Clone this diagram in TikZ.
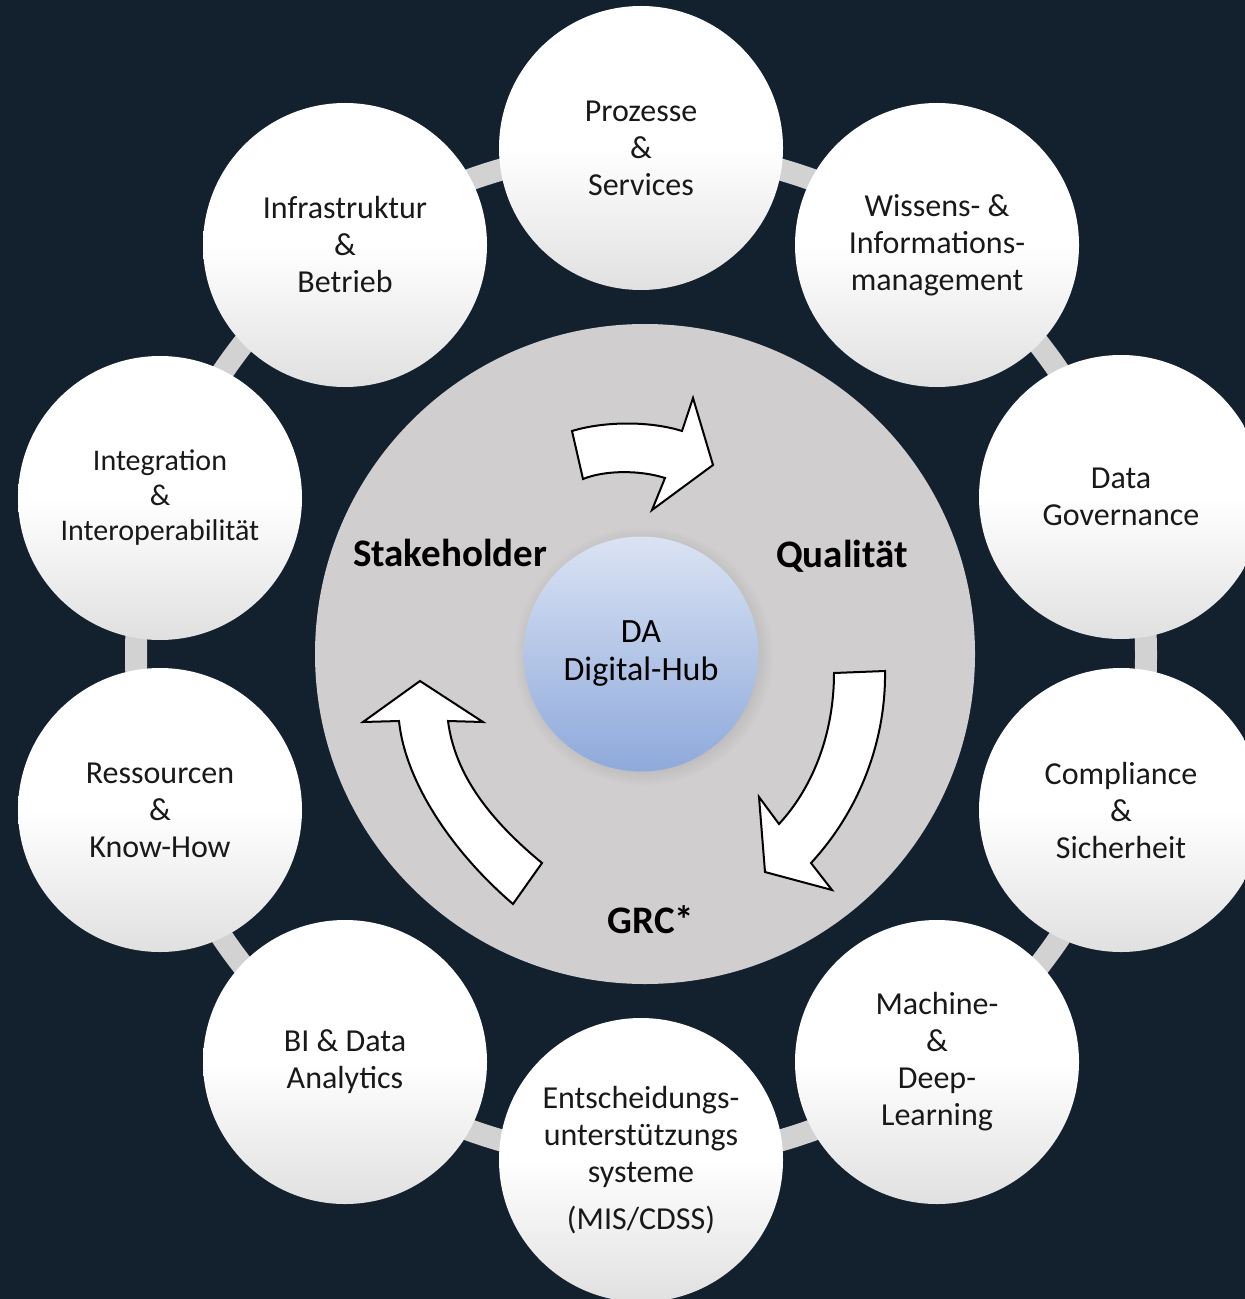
\documentclass[tikz,border=0pt]{standalone}
\usepackage{fontspec}
\setmainfont{Carlito}
\usetikzlibrary{shadows}
\definecolor{navy}{HTML}{13202E}
\definecolor{diskgray}{HTML}{D0CECE}
\definecolor{ringgray}{HTML}{D2D2D2}
\definecolor{hubtop}{HTML}{DAE3F3}
\definecolor{hubbottom}{HTML}{8EA9DB}
\begin{document}
\begin{tikzpicture}[x=0.5pt,y=-0.5pt,
  topic/.style={circle, minimum size=142pt, inner sep=0pt, align=center,
    top color=white, bottom color=black!12, middle color=white,
    text=black!90, font=\fontsize{16}{18.5}\selectfont},
  cyclelabel/.style={font=\fontsize{19.5}{22}\selectfont\bfseries, text=black},
  blockarrow/.style={fill=white, draw=black, line width=1pt, line join=miter}]
\useasboundingbox (0,0) rectangle (1245,1299);
\clip (0,0) rectangle (1245,1299);
\fill[navy] (0,0) rectangle (1245,1299);
% ring behind the topics
\coordinate (center) at (641,655);
\draw[ringgray, line width=11pt] (center) circle (505);
% inner disk and hub
\node[circle, minimum size=330pt, inner sep=0pt, fill=diskgray] (disk) at (645,654) {};
\node[circle, minimum size=117.5pt, inner sep=0pt, top color=hubtop, bottom color=hubbottom,
  circular drop shadow={shadow xshift=1pt, shadow yshift=-1pt, opacity=0.25},
  align=center, font=\fontsize{17}{19}\selectfont] (hub) at (641,654) {DA\\Digital-Hub};
% topics
\node[topic] (prozesse) at (641,148) {Prozesse\\\&\\Services};
\node[topic] (wissen) at (937,245) {Wissens- \&\\Informations-\\management};
\node[topic] (governance) at (1121,497) {Data\\Governance};
\node[topic] (compliance) at (1121,810) {Compliance\\\&\\Sicherheit};
\node[topic] (learning) at (937,1062) {Machine-\\\&\\Deep-\\Learning};
\node[topic] (entscheidung) at (641,1160) {Entscheidungs-\\unterstützungs\\systeme\\[5pt](MIS/CDSS)};
\node[topic] (analytics) at (345,1062) {BI \& Data\\Analytics};
\node[topic] (ressourcen) at (160,810) {Ressourcen\\\&\\Know-How};
\node[topic, font=\fontsize{15}{17.5}\selectfont] (integration) at (160,498) {Integration\\\&\\Interoperabilität};
\node[topic] (infrastruktur) at (345,245) {Infrastruktur\\\&\\Betrieb};
% cycle labels
\node[cyclelabel] (stakeholder) at (450,553) {Stakeholder};
\node[cyclelabel] (qualitaet) at (842,556) {Qualität};
\node[cyclelabel] (grc) at (651,920) {GRC*};
% curved block arrows
\draw[blockarrow] (572,431) .. controls (605,421) and (650,421) .. (682,431)
  -- (693,398) -- (713,465) -- (652,510) -- (665,478)
  .. controls (640,470) and (605,470) .. (583,479) -- cycle;
\draw[blockarrow] (834,673) -- (885,671)
  .. controls (886,740) and (860,810) .. (811,863)
  -- (832,890) -- (765,872) -- (759,797) -- (779,824)
  .. controls (815,785) and (834,730) .. cycle;
\draw[blockarrow] (420,681) -- (483,722) -- (448,721)
  .. controls (455,775) and (490,820) .. (542,863)
  -- (513,904)
  .. controls (450,850) and (405,780) .. (399,721)
  -- (363,722) -- cycle;
\end{tikzpicture}
\end{document}
